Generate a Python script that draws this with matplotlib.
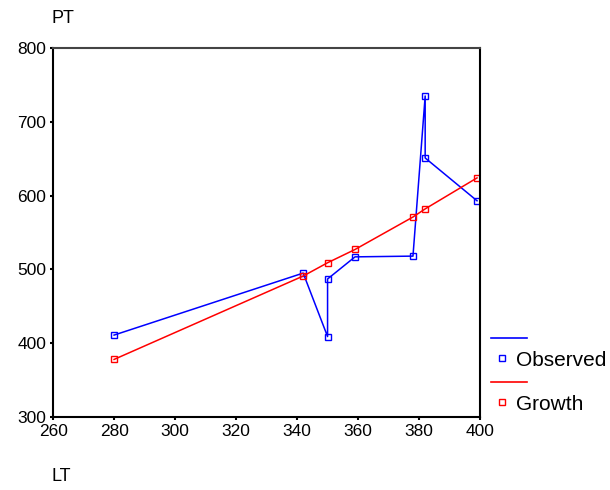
import matplotlib
matplotlib.use('Agg')
import matplotlib.pyplot as plt
from matplotlib.lines import Line2D

plt.rcParams['font.family'] = ['Liberation Sans', 'DejaVu Sans']

# Observed series (in drawing order)
obs_lt = [280, 342, 350, 350, 359, 378, 382, 382, 399]
obs_pt = [411, 495, 409, 487, 517, 518, 735, 651, 593]

# Growth series
gro_lt = [280, 342, 350, 359, 378, 382, 399]
gro_pt = [378, 491, 509, 527, 571, 582, 624]

series = [('Observed', '#0000ff'), ('Growth', '#ff0000')]

W, H = 610, 490
fig = plt.figure(figsize=(W / 100, H / 100), dpi=100)
ax = fig.add_axes([0.087, 0.149, 0.700, 0.753])

ax.plot(obs_lt, obs_pt, '-', color='#0000ff', lw=1.1, marker='s', ms=4.5,
        mfc='none', mec='#0000ff', mew=1.0)
ax.plot(gro_lt, gro_pt, '-', color='#ff0000', lw=1.1, marker='s', ms=4.5,
        mfc='none', mec='#ff0000', mew=1.0)

ax.set_xlim(260, 400)
ax.set_ylim(300, 800)
ax.set_xticks(range(260, 401, 20))
ax.set_yticks(range(300, 801, 100))
ax.tick_params(length=2, width=1.5, labelsize=12.5, pad=3)
for s in ['left', 'bottom', 'right']:
    ax.spines[s].set_linewidth(1.5)
    ax.spines[s].set_color('black')
ax.spines['top'].set_linewidth(1.5)
ax.spines['top'].set_color('#444444')

fig.text(0.085, 0.962, 'PT', fontsize=13, ha='left', va='center')
fig.text(0.085, 0.01, 'LT', fontsize=13, ha='left', va='bottom')

# SPSS-style legend: line on one row, marker + label on the next
y0 = 338
for i, (name, col) in enumerate(series):
    yl = y0 + i * 44
    fig.add_artist(Line2D([491 / W, 527 / W], [1 - yl / H, 1 - yl / H],
                          color=col, lw=1.2, transform=fig.transFigure))
    fig.add_artist(Line2D([502 / W], [1 - (yl + 20) / H], ls='none', marker='s',
                          ms=4.5, mfc='none', mec=col, mew=1.0,
                          transform=fig.transFigure))
    fig.text(516 / W, 1 - (yl + 22) / H, name, fontsize=15, ha='left', va='center')

fig.savefig('out.png', dpi=100)
